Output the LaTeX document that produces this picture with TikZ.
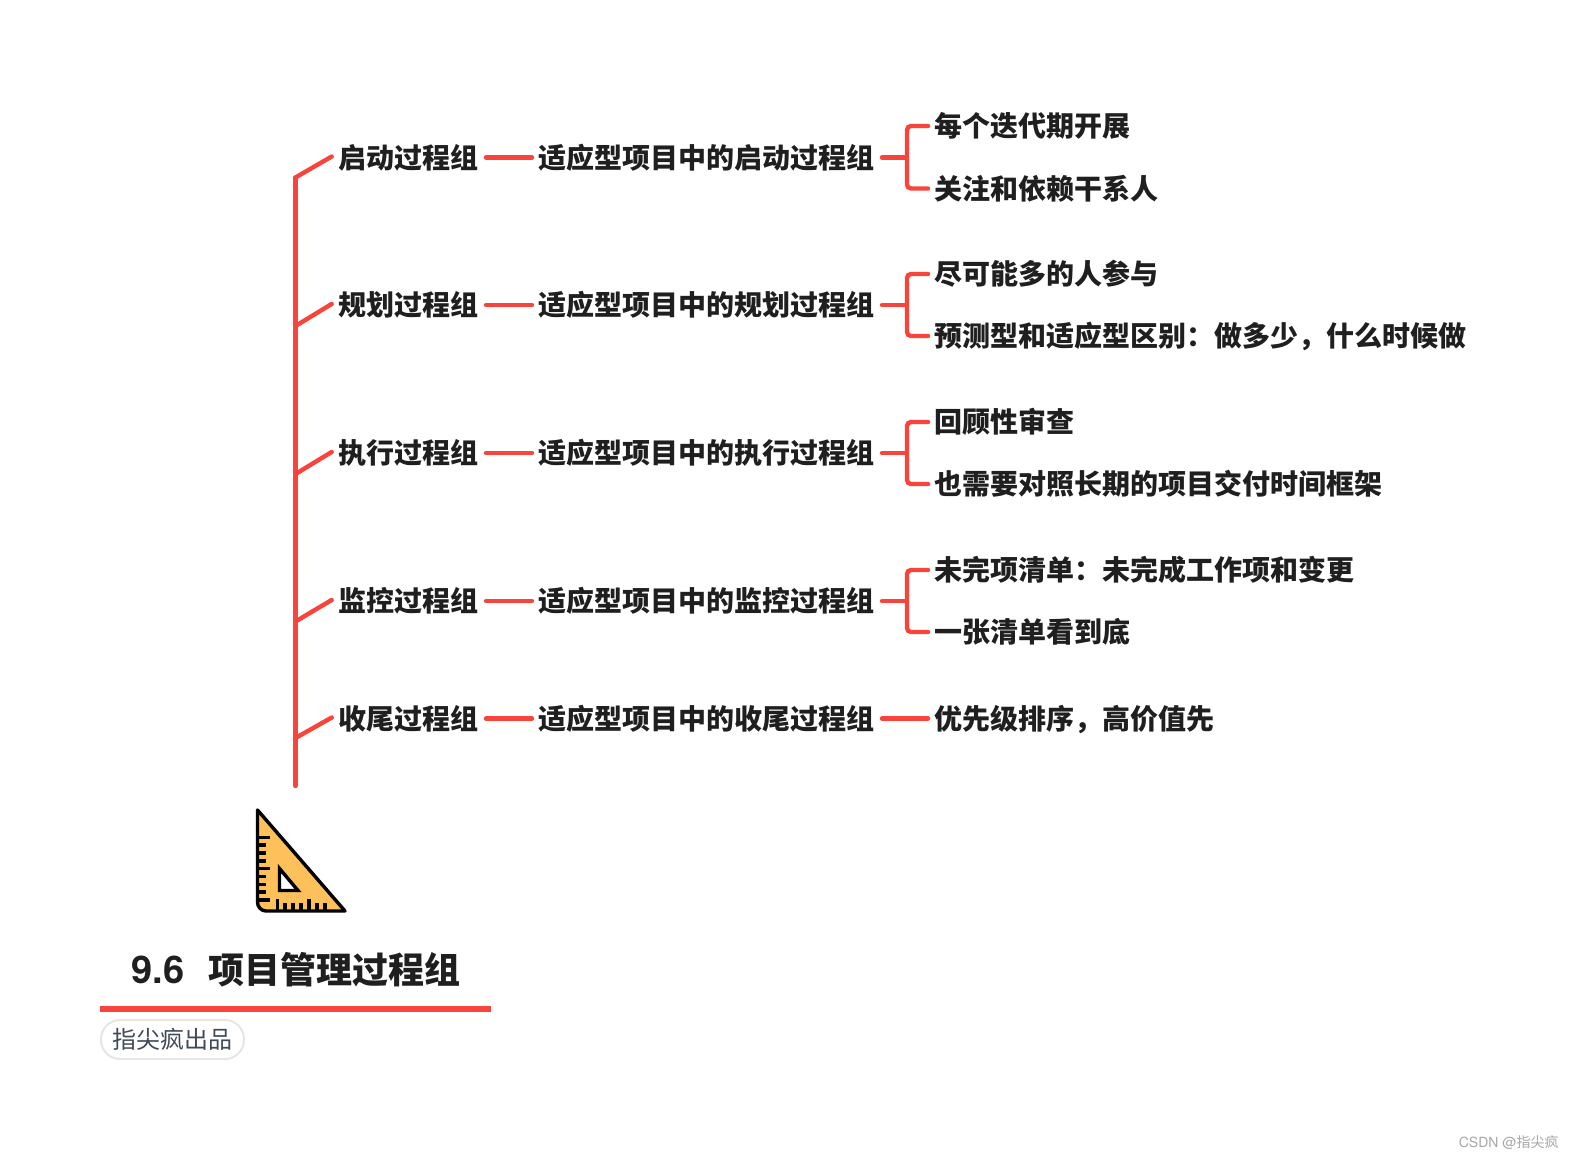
\documentclass[tikz,border=0pt]{standalone}
\usepackage{fontspec}
\setmainfont{Noto Sans CJK SC}
\newfontfamily\latinfont{TeX Gyre Heros}
\usepackage{xcolor}
\definecolor{branchred}{HTML}{F8443A}
\definecolor{rulerfill}{HTML}{FDC05A}
\definecolor{pillgray}{HTML}{E4E6E8}
\definecolor{pilltext}{HTML}{3F4A56}
\definecolor{marktext}{HTML}{A6A6A6}
\tikzset{
    topic/.style={anchor=west,inner sep=0pt,outer sep=4pt,text height=12.3pt,text depth=1.7pt,font=\fontsize{14pt}{14pt}\selectfont\bfseries,text=black!88},
    branch/.style={draw=branchred,line width=2.2pt,line cap=round},
    toleaf/.style={branch,shorten >=-1pt},
    rulerline/.style={draw=black,line width=1.7pt}
}
\begin{document}
\begin{tikzpicture}[x=0.5pt,y=-0.5pt]
        \useasboundingbox (0,0) rectangle (1574,1160);

        % first level
        \node[topic] (start) at (330,157.5) {启动过程组};
        \node[topic] (plan) at (330,305) {规划过程组};
        \node[topic] (exec) at (330,453) {执行过程组};
        \node[topic] (watch) at (330,601) {监控过程组};
        \node[topic] (close) at (330,718.5) {收尾过程组};

        % second level
        \node[topic] (startsub) at (530,157.5) {适应型项目中的启动过程组};
        \node[topic] (plansub) at (530,305) {适应型项目中的规划过程组};
        \node[topic] (execsub) at (530,453) {适应型项目中的执行过程组};
        \node[topic] (watchsub) at (530,601) {适应型项目中的监控过程组};
        \node[topic] (closesub) at (530,718.5) {适应型项目中的收尾过程组};

        % leaves
        \node[topic] (starta) at (926,126) {每个迭代期开展};
        \node[topic] (startb) at (926,188.5) {关注和依赖干系人};
        \node[topic] (plana) at (926,274) {尽可能多的人参与};
        \node[topic] (planb) at (926,336) {预测型和适应型区别：做多少，什么时候做};
        \node[topic] (execa) at (926,422) {回顾性审查};
        \node[topic] (execb) at (926,484) {也需要对照长期的项目交付时间框架};
        \node[topic] (watcha) at (926,570) {未完项清单：未完成工作项和变更};
        \node[topic] (watchb) at (926,632) {一张清单看到底};
        \node[topic] (closea) at (926,718.5) {优先级排序，高价值先};

        % trunk
        \coordinate (trunkstart) at (295.5,177.5);
        \coordinate (trunkplan) at (295.5,326);
        \coordinate (trunkexec) at (295.5,474);
        \coordinate (trunkwatch) at (295.5,621.5);
        \coordinate (trunkclose) at (295.5,738);
        \coordinate (trunkend) at (295.5,786);
        \draw[branch] (trunkstart) -- (trunkend);
        \draw[toleaf] (trunkstart) -- (start.west);
        \draw[toleaf] (trunkplan) -- (plan.west);
        \draw[toleaf] (trunkexec) -- (exec.west);
        \draw[toleaf] (trunkwatch) -- (watch.west);
        \draw[toleaf] (trunkclose) -- (close.west);

        \draw[toleaf] (start) -- (startsub);
        \draw[toleaf] (plan) -- (plansub);
        \draw[toleaf] (exec) -- (execsub);
        \draw[toleaf] (watch) -- (watchsub);
        \draw[toleaf] (close) -- (closesub);
        \draw[toleaf] (closesub) -- (closea);

        % brackets
        \coordinate (forkstart) at (907,157.5);
        \coordinate (forkplan) at (907,305);
        \coordinate (forkexec) at (907,453);
        \coordinate (forkwatch) at (907,601);
        \draw[branch] (startsub.east) -- (forkstart);
        \draw[branch] (plansub.east) -- (forkplan);
        \draw[branch] (execsub.east) -- (forkexec);
        \draw[branch] (watchsub.east) -- (forkwatch);
        \draw[toleaf,shorten <=-1pt,rounded corners=2pt] (starta.west) -| (forkstart) |- (startb.west);
        \draw[toleaf,shorten <=-1pt,rounded corners=2pt] (plana.west) -| (forkplan) |- (planb.west);
        \draw[toleaf,shorten <=-1pt,rounded corners=2pt] (execa.west) -| (forkexec) |- (execb.west);
        \draw[toleaf,shorten <=-1pt,rounded corners=2pt] (watcha.west) -| (forkwatch) |- (watchb.west);

        % set square
        \draw[rulerline,fill=rulerfill,line join=round] (257.5,810) -- (345,911) -- (266,911) to[out=180,in=-90] (257.5,902) -- cycle;
        \draw[rulerline,fill=white] (279.5,868.5) -- (298,890.5) -- (279.5,890.5) -- cycle;
        \foreach \y in {837.5,868.5,900} \draw[rulerline] (258,\y) -- (270,\y);
        \foreach \y in {845,853,861,876.5,884.5,892} \draw[rulerline] (258,\y) -- (266,\y);
        \foreach \x in {277.5,309} \draw[rulerline] (\x,910) -- (\x,899);
        \foreach \x in {285,293,301,317,325} \draw[rulerline] (\x,910) -- (\x,903);

        % title
        \node[anchor=west,inner sep=0pt,text height=15.8pt,text depth=2.2pt,font=\fontsize{18pt}{18pt}\selectfont\bfseries,text=black!88] (title) at (131,970) {{\latinfont\fontsize{19pt}{19pt}\selectfont 9.6}\hspace{12pt}项目管理过程组};
        \draw[draw=branchred,line width=3pt] (100,1008.5) -- (491,1008.5);
        \node[anchor=center,draw=pillgray,line width=1pt,rounded corners=9.5pt,minimum width=71.5pt,minimum height=19.5pt,inner sep=0pt,font=\fontsize{12pt}{12pt}\selectfont,text=pilltext] (maker) at (172.5,1039.5) {指尖疯出品};

        \node[anchor=east,inner sep=0pt,font=\fontsize{7pt}{7pt}\selectfont,text=marktext] (mark) at (1559,1143) {{\latinfont CSDN @}指尖疯};
    \end{tikzpicture}
\end{document}
